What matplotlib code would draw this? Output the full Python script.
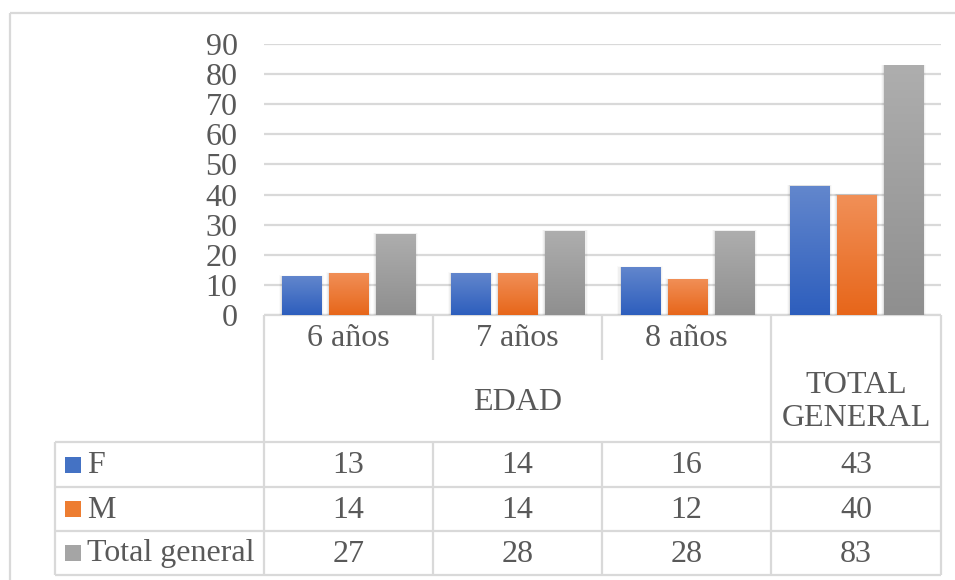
import matplotlib
matplotlib.use("Agg")
import matplotlib.pyplot as plt
import numpy as np
from matplotlib.patches import Rectangle
from matplotlib.colors import LinearSegmentedColormap

categories = ["6 años", "7 años", "8 años", "TOTAL\nGENERAL"]
group_label = "EDAD"
series_names = ["F", "M", "Total general"]
F = [13, 14, 16, 43]
M = [14, 14, 12, 40]
Total = [27, 28, 28, 83]
yticks = [0, 10, 20, 30, 40, 50, 60, 70, 80, 90]

series = [F, M, Total]
grads = [("#6387cd", "#2d5ebd"), ("#f19058", "#e7661a"), ("#aeaeae", "#8f8f8f")]
mids = ["#4472c4", "#ed7d31", "#a5a5a5"]
TXT = "#595959"
GRID = "#d9d9d9"
FONT = "Liberation Serif"
FS = 23

W, H = 955, 580
fig = plt.figure(figsize=(W / 100, H / 100), dpi=100)

# overlay axes in pixel coordinates for the table
ov = fig.add_axes([0, 0, 1, 1])
ov.set_xlim(0, W)
ov.set_ylim(H, 0)
ov.axis("off")

x_left, x_right = 264, 941
y_top, y_zero = 44, 315
ax = fig.add_axes([x_left / W, (H - y_zero) / H, (x_right - x_left) / W, (y_zero - y_top) / H])
ax.set_xlim(-0.5, len(categories) - 0.5)
ax.set_ylim(0, 90)
ax.set_facecolor("none")
for s in ax.spines.values():
    s.set_visible(False)
ax.set_yticks(yticks)
ax.set_yticklabels([str(v) for v in yticks], fontfamily=FONT, fontsize=FS, color=TXT)
ax.tick_params(axis="y", length=0, pad=19)
ax.set_xticks([])
ax.yaxis.grid(True, color=GRID, linewidth=1.6)
ax.set_axisbelow(True)

bw = 0.231
step = 0.278
x = np.arange(len(categories))
for i, vals in enumerate(series):
    cmap = LinearSegmentedColormap.from_list("g%d" % i, [grads[i][1], grads[i][0]])
    grad = np.linspace(0, 1, 256).reshape(-1, 1)
    for xi, v in zip(x, vals):
        x0 = xi + (i - 1) * step - bw / 2
        # soft shadow
        for k, a in enumerate([0.06, 0.04, 0.02]):
            d = 0.006 * (k + 1)
            sh = Rectangle((x0 - d, 0), bw + 2 * d, v + d * 8, facecolor="black", edgecolor="none", alpha=a, zorder=2)
            ax.add_patch(sh)
        r = Rectangle((x0, 0), bw, v, facecolor="none", edgecolor="none", zorder=3)
        ax.add_patch(r)
        im = ax.imshow(grad, extent=[x0, x0 + bw, 0, v], origin="lower", aspect="auto", cmap=cmap, zorder=3)
        im.set_clip_path(r)
ax.set_xlim(-0.5, len(categories) - 0.5)
ax.set_ylim(0, 90)

def line(x0, y0, x1, y1):
    ov.plot([x0, x1], [y0, y1], color=GRID, linewidth=1.6, solid_capstyle="butt")

# outer chart border
line(10, 13, W, 13)
line(10, 13, 10, H)

col_x = [264, 433, 602, 771, 941]
row_y = [442, 487, 531, 575]
tbl_left = 55

line(col_x[0], y_zero, col_x[-1], y_zero)
line(col_x[0], y_zero, col_x[0], row_y[-1])
line(col_x[-1], y_zero, col_x[-1], row_y[-1])
line(col_x[3], y_zero, col_x[3], row_y[-1])
for cx in col_x[1:3]:
    line(cx, y_zero, cx, 360)
    line(cx, row_y[0], cx, row_y[-1])
for ry in row_y:
    line(tbl_left, ry, col_x[-1], ry)
line(tbl_left, row_y[0], tbl_left, row_y[-1])

tk = dict(fontfamily=FONT, fontsize=FS, color=TXT, ha="center", va="center")
for j, c in enumerate(categories[:3]):
    ov.text((col_x[j] + col_x[j + 1]) / 2, 339, c, **tk)
ov.text((col_x[0] + col_x[3]) / 2, 402, group_label, **tk)
ov.text((col_x[3] + col_x[4]) / 2, 402, categories[3], linespacing=1.22, **tk)

for i, (name, vals) in enumerate(zip(series_names, series)):
    yc = (row_y[i] + row_y[i + 1]) / 2
    ov.add_patch(Rectangle((65, yc - 8), 16, 16, facecolor=mids[i], edgecolor="none"))
    ov.text(87, yc + 1, name, fontfamily=FONT, fontsize=FS, color=TXT, ha="left", va="center")
    for j, v in enumerate(vals):
        ov.text((col_x[j] + col_x[j + 1]) / 2, yc + 1, str(v), **tk)

fig.savefig("out.png", dpi=100)
